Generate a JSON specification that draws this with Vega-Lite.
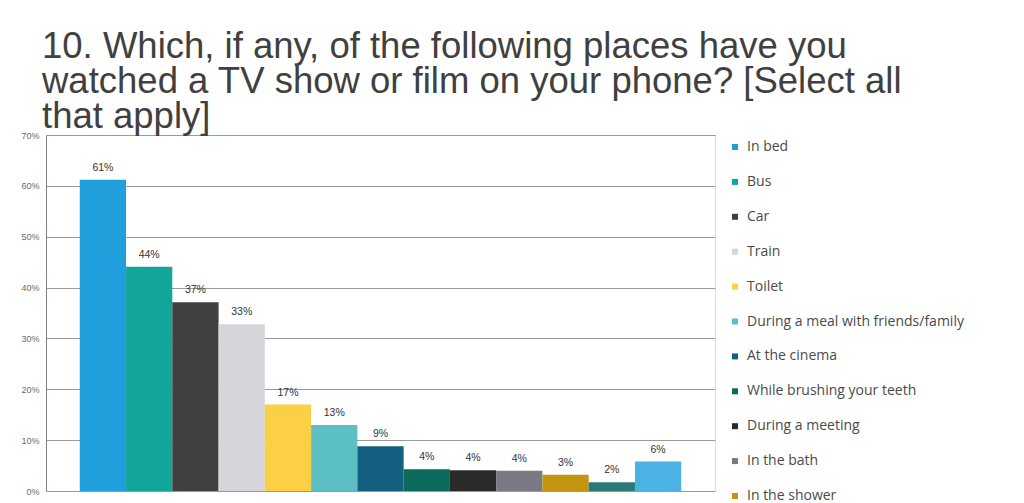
{
  "$schema": "https://vega.github.io/schema/vega-lite/v6.json",
  "width": 669,
  "height": 356,
  "autosize": {"type": "none"},
  "padding": {"left": 46, "top": 135, "right": 309, "bottom": 12},
  "background": "white",
  "title": {
    "text": [
      "10. Which, if any, of the following places have you",
      "watched a TV show or film on your phone? [Select all",
      "that apply]"
    ],
    "anchor": "start",
    "frame": "group",
    "orient": "top",
    "font": "Liberation Sans",
    "fontSize": 36.5,
    "fontWeight": "normal",
    "color": "#404040",
    "lineHeight": 35,
    "baseline": "bottom",
    "offset": -41,
    "dx": -4
  },
  "data": {
    "values": [
      {"place": "In bed", "share": 0.612},
      {"place": "Bus", "share": 0.441},
      {"place": "Car", "share": 0.371},
      {"place": "Train", "share": 0.328},
      {"place": "Toilet", "share": 0.17},
      {"place": "During a meal with friends/family", "share": 0.13},
      {"place": "At the cinema", "share": 0.088},
      {"place": "While brushing your teeth", "share": 0.043},
      {"place": "During a meeting", "share": 0.041},
      {"place": "In the bath", "share": 0.04},
      {"place": "In the shower", "share": 0.032},
      {"place": "Other", "share": 0.017},
      {"place": "None of these", "share": 0.058}
    ]
  },
  "encoding": {
    "x": {
      "field": "place",
      "type": "nominal",
      "sort": null,
      "axis": null,
      "scale": {"paddingInner": 0, "paddingOuter": 0.73}
    },
    "y": {
      "field": "share",
      "type": "quantitative",
      "scale": {"domain": [0, 0.7]},
      "axis": {
        "values": [0, 0.1, 0.2, 0.3, 0.4, 0.5, 0.6, 0.7],
        "format": ".0%",
        "title": null,
        "ticks": false,
        "labelFont": "Liberation Sans",
        "labelFontSize": 9,
        "labelColor": "#6a6a6a",
        "labelPadding": 7,
        "domainColor": "#808080",
        "grid": true,
        "gridColor": "#9a9a9a",
        "gridOpacity": 1
      }
    }
  },
  "layer": [
    {
      "mark": {"type": "bar"},
      "encoding": {
        "color": {
          "field": "place",
          "type": "nominal",
          "sort": null,
          "scale": {
            "range": ["#1fa0dc", "#12a59a", "#404040", "#d5d5da", "#fbd044", "#5cbfc3", "#146081", "#0b6a5c", "#2a2a2a", "#7a7a84", "#c4960f", "#2a7a7a", "#4ab3e3"]
          },
          "legend": {
            "orient": "none",
            "legendX": 682,
            "legendY": 5,
            "title": null,
            "symbolType": "square",
            "symbolSize": 36,
            "symbolStrokeWidth": 0,
            "labelFont": "Open Sans",
            "labelFontSize": 14,
            "labelColor": "#4a4a4a",
            "labelOffset": 5,
            "labelLimit": 300,
            "rowPadding": 20.9
          }
        }
      }
    },
    {
      "mark": {"type": "text", "baseline": "bottom", "dy": -7, "font": "Liberation Sans", "fontSize": 10.5, "color": "#333333"},
      "encoding": {
        "text": {"field": "share", "type": "quantitative", "format": ".0%"}
      }
    }
  ]
}
